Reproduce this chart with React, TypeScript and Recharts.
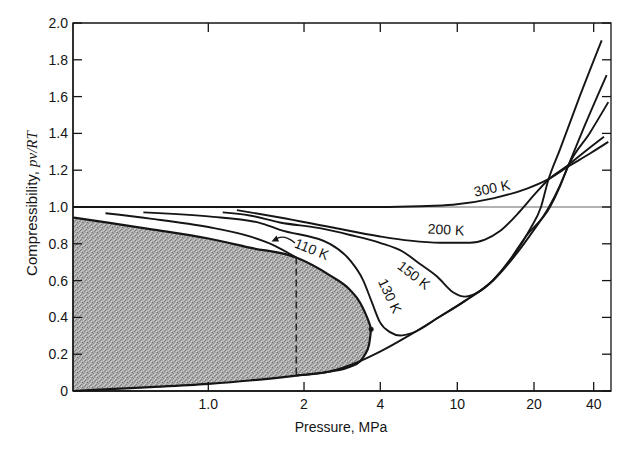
import { Area, ComposedChart, Line, ReferenceArea, ReferenceDot, ReferenceLine, XAxis, YAxis } from 'recharts'

// the printed pressure axis is not a clean log scale, so tick positions are taken off the figure
const AXIS_P = [0, 1, 2, 4, 10, 20, 40]
const AXIS_U = [0, 0.2515, 0.4294, 0.5712, 0.7143, 0.8569, 0.9678]

const X_TICK_P = [1, 2, 4, 10, 20, 40]
const X_TICK_LABELS = ['1.0', '2', '4', '10', '20', '40']
const Y_TICKS = [0, 0.2, 0.4, 0.6, 0.8, 1.0, 1.2, 1.4, 1.6, 1.8, 2.0]

// saturation dome
const SAT_P = [0, 0.27, 0.57, 1.0, 1.35, 1.89, 2.53, 3.04, 3.33, 3.48, 3.61, 3.68]
const SAT_VAPOR_Z = [0.943, 0.914, 0.88, 0.829, 0.779, 0.725, 0.628, 0.549, 0.48, 0.427, 0.373, 0.336]
const SAT_LIQUID_Z = [0, 0.01, 0.021, 0.039, 0.057, 0.084, 0.106, 0.132, 0.162, 0.198, 0.251, 0.336]

const CRITICAL_P = 3.68
const CRITICAL_Z = 0.336

// isotherms
const T110_VAPOR_P = [0.24, 0.57, 1.0, 1.35, 1.62, 1.89]
const T110_VAPOR_Z = [0.966, 0.937, 0.891, 0.84, 0.789, 0.725]
const T110_DEW_P = [1.89, 1.89]
const T110_DEW_Z = [0.725, 0.084]
const T110_LIQUID_P = [1.89, 2.53, 3.18, 3.99, 5.7, 8.14, 10.72, 13.81, 16.84, 19.29, 21.69, 23.53, 27.05, 34.12, 43.9]
const T110_LIQUID_Z = [0.084, 0.106, 0.151, 0.214, 0.305, 0.405, 0.49, 0.602, 0.746, 0.88, 1.0, 1.141, 1.313, 1.605, 1.906]

const T130_P = [0.52, 1.0, 1.45, 1.68, 2.53, 3.04, 3.42, 3.71, 3.99, 4.49, 5.06, 5.83, 8.14, 10.72, 13.81, 16.84, 19.29, 23.81, 27.05, 29.68, 36.16, 46.5]
const T130_Z = [0.971, 0.949, 0.914, 0.876, 0.8, 0.71, 0.603, 0.48, 0.373, 0.32, 0.302, 0.315, 0.405, 0.49, 0.6, 0.736, 0.846, 1.0, 1.118, 1.221, 1.446, 1.717]

const T150_P = [1.11, 1.35, 1.68, 2.31, 3.04, 3.99, 5.24, 6.42, 7.86, 9.5, 10.72, 12.28, 13.81, 16.1, 18.44, 24.08, 27.05, 29.68, 38.32, 47.4]
const T150_Z = [0.971, 0.954, 0.916, 0.885, 0.848, 0.805, 0.757, 0.69, 0.622, 0.537, 0.513, 0.543, 0.602, 0.714, 0.834, 1.0, 1.112, 1.221, 1.404, 1.57]

const T200_P = [1.23, 1.68, 2.53, 3.99, 5.7, 8.14, 11.22, 12.84, 14.71, 17.62, 20.23, 23.53, 29.68, 36.16, 45.08]
const T200_Z = [0.983, 0.943, 0.891, 0.84, 0.817, 0.806, 0.806, 0.823, 0.869, 0.977, 1.071, 1.147, 1.227, 1.302, 1.382]

const T300_P = [0, 1.0, 2, 4, 6.42, 9.5, 13.81, 18.77, 23.53, 29.68, 38.32, 47.4]
const T300_Z = [1.0, 1.0, 1.0, 1.0, 1.004, 1.012, 1.047, 1.1, 1.15, 1.219, 1.291, 1.354]

const INK = '#151515'
const FONT = "'Liberation Sans', Arial, Helvetica, sans-serif"
const PLOT_W = 538
const PLOT_H = 368
const TICK_LEN = 9

function warp(p: number): number {
  if (p <= AXIS_P[1]) return (p / AXIS_P[1]) * AXIS_U[1]
  let i = 1
  while (i < AXIS_P.length - 2 && p > AXIS_P[i + 1]) i++
  const t = Math.log(p / AXIS_P[i]) / Math.log(AXIS_P[i + 1] / AXIS_P[i])
  return AXIS_U[i] + t * (AXIS_U[i + 1] - AXIS_U[i])
}

function curve(ps: number[], zs: number[]) {
  return ps.map((p, i) => ({ u: warp(p), z: zs[i] }))
}

const satData = SAT_P.map((p, i) => ({
  u: warp(p),
  vap: SAT_VAPOR_Z[i],
  liq: SAT_LIQUID_Z[i],
  range: [SAT_LIQUID_Z[i], SAT_VAPOR_Z[i]],
}))

const isotherms = [
  curve(T110_VAPOR_P, T110_VAPOR_Z),
  curve(T110_LIQUID_P, T110_LIQUID_Z),
  curve(T130_P, T130_Z),
  curve(T150_P, T150_Z),
  curve(T200_P, T200_Z),
  curve(T300_P, T300_Z),
]

const labelStyle = { fontFamily: FONT, fontSize: 14, fill: INK }

// stipple texture for the two-phase region
const SPECKS = [
  [0, 0, '#7a7a7a'], [3, 0, '#c9c9c9'], [1, 1, '#d6d6d6'], [4, 1, '#8a8a8a'],
  [2, 2, '#6f6f6f'], [0, 3, '#cfcfcf'], [3, 3, '#909090'], [1, 4, '#858585'], [4, 4, '#d2d2d2'],
]

function Note({ x, y, angle = 0, anchor = 'middle', children }: any) {
  return (
    <text x={x} y={y} transform={`rotate(${angle} ${x} ${y})`} textAnchor={anchor} style={labelStyle}>
      {children}
    </text>
  )
}

export default function App() {
  const du = TICK_LEN / PLOT_W
  const dz = (TICK_LEN / PLOT_H) * 2
  return (
    <div style={{ position: 'absolute', left: 0, top: 0, width: 644, height: 464, background: '#fff' }}>
      <ComposedChart width={644} height={464} margin={{ top: 23, right: 33, bottom: 33, left: 0 }}>
        <defs>
          <pattern id="stipple" width="5" height="5" patternUnits="userSpaceOnUse">
            <rect width="5" height="5" fill="#acacac" />
            {SPECKS.map(([x, y, c], i) => (
              <rect key={i} x={x} y={y} width="1" height="1" fill={c as string} />
            ))}
          </pattern>
        </defs>
        <XAxis
          type="number"
          dataKey="u"
          domain={[0, 1]}
          allowDataOverflow
          ticks={X_TICK_P.map(warp)}
          tickFormatter={(_v: number, i: number) => X_TICK_LABELS[i]}
          height={40}
          tickSize={-TICK_LEN}
          tickMargin={17}
          stroke={INK}
          strokeWidth={1.3}
          tick={{ fill: INK, fontSize: 14, fontFamily: FONT }}
        />
        <YAxis
          type="number"
          domain={[0, 2]}
          allowDataOverflow
          ticks={Y_TICKS}
          tickFormatter={(v: number) => (v === 0 ? '0' : v.toFixed(1))}
          width={73}
          tickSize={-TICK_LEN}
          tickMargin={14}
          stroke={INK}
          strokeWidth={1.3}
          tick={{ fill: INK, fontSize: 14, fontFamily: FONT }}
        />
        <Area
          data={satData}
          dataKey="range"
          type="monotone"
          stroke="none"
          fill="url(#stipple)"
          fillOpacity={1}
          isAnimationActive={false}
        />
        <ReferenceLine y={1} stroke="#666" strokeWidth={1} />

        {/* frame with inward ticks on the top and right */}
        <ReferenceArea x1={0} x2={1} y1={0} y2={2} fill="none" stroke={INK} strokeWidth={1.3} />
        {X_TICK_P.map((p) => (
          <ReferenceLine
            key={`t${p}`}
            segment={[{ x: warp(p), y: 2 }, { x: warp(p), y: 2 - dz }]}
            stroke={INK}
            strokeWidth={1.3}
          />
        ))}
        {Y_TICKS.map((t) => (
          <ReferenceLine
            key={`r${t}`}
            segment={[{ x: 1, y: t }, { x: 1 - du, y: t }]}
            stroke={INK}
            strokeWidth={1.3}
          />
        ))}

        <Line data={satData} dataKey="vap" type="monotone" stroke={INK} strokeWidth={2.2} dot={false} isAnimationActive={false} />
        <Line data={satData} dataKey="liq" type="monotone" stroke={INK} strokeWidth={2.2} dot={false} isAnimationActive={false} />
        <Line
          data={curve(T110_DEW_P, T110_DEW_Z)}
          dataKey="z"
          type="linear"
          stroke={INK}
          strokeWidth={1.3}
          strokeDasharray="7 4"
          dot={false}
          isAnimationActive={false}
        />
        {isotherms.map((d, i) => (
          <Line key={i} data={d} dataKey="z" type="monotone" stroke={INK} strokeWidth={1.9} dot={false} isAnimationActive={false} />
        ))}
        <ReferenceDot x={warp(CRITICAL_P)} y={CRITICAL_Z} r={2.5} fill={INK} stroke="none" />

        <text x={37} y={203.5} transform="rotate(-90 37 203.5)" textAnchor="middle" style={{ fontFamily: FONT, fontSize: 15, fill: INK }}>
          Compressibility,{' '}
          <tspan style={{ fontFamily: "'Liberation Serif', 'Times New Roman', serif", fontStyle: 'italic' }}>pv/RT</tspan>
        </text>
        <text x={341} y={431.5} textAnchor="middle" style={labelStyle}>
          Pressure, MPa
        </text>

        <Note x={191} y={248} angle={8.5}>Saturated vapor</Note>
        <Note x={190} y={380} angle={-3}>Saturated liquid</Note>
        <Note x={310} y={253.6} angle={22}>110 K</Note>
        <Note x={385.5} y={298} angle={65}>130 K</Note>
        <Note x={411} y={279} angle={38}>150 K</Note>
        <Note x={445.7} y={234.5} angle={3}>200 K</Note>
        <Note x={493} y={193} angle={-12}>300 K</Note>
        <Note x={362} y={328} anchor="end">Critical</Note>
        <Note x={363} y={342} anchor="end">point</Note>

        <path d="M 295 243 Q 284 234 276 239" fill="none" stroke={INK} strokeWidth={1.3} />
        <path d="M 271.5 241.5 L 276.5 235.5 L 279 241.5 Z" fill={INK} />
      </ComposedChart>
    </div>
  )
}
